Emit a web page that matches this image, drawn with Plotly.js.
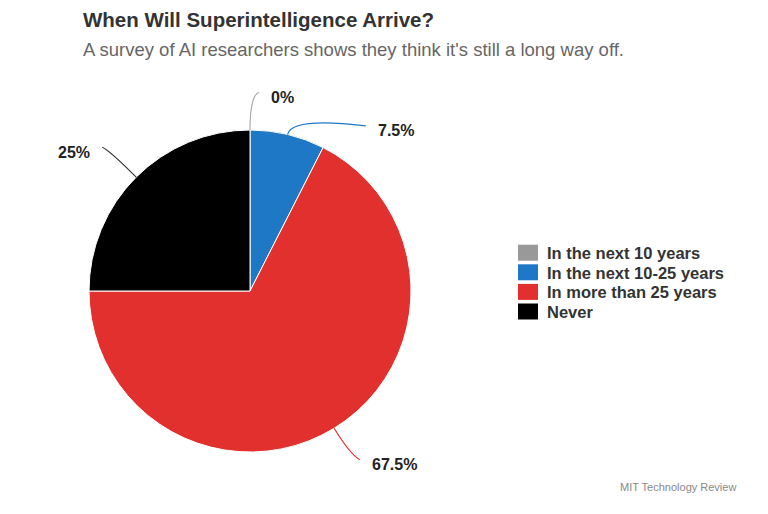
<!DOCTYPE html>
<html>
<head>
<meta charset="utf-8">
<script src="https://cdn.plot.ly/plotly-3.0.1.min.js"></script>
<style>html,body{margin:0;padding:0;background:#fff;}#chart{width:768px;height:514px;}</style>
</head>
<body>
<div id="chart"></div>
<script>
// ---- data ----
const categories = ["In the next 10 years", "In the next 10-25 years", "In more than 25 years", "Never"];
const shares = [0, 7.5, 67.5, 25];
const labelTexts = ["0%", "7.5%", "67.5%", "25%"];
const sliceColors = ["#999999", "#1f78c6", "#e2302f", "#000000"];

// ---- layout / style config (not data) ----
const W = 768, H = 514;
const cx = 250, cy = 291, R = 161;
// connector style per slice: [radial extension, horizontal run, vertical run]
const connectorStyle = [[34, 9, -4], [18, 74, 9], [30, 10, 6], [38, -7, -3]];
const legendBox = {x: 518, y: 244.7, w: 20, h: 16, pitch: 19.6, textGap: 7};

const px = x => x / W;
const py = y => 1 - y / H;
const FONT = "Liberation Sans, Arial, sans-serif";

const total = shares.reduce((a, b) => a + b, 0);
const shapes = [], annotations = [];
let cum = 0;
shares.forEach((v, i) => {
  const mid = (cum + v / 2) / total * 2 * Math.PI;
  cum += v;
  const sx = Math.sin(mid), sy = -Math.cos(mid);
  const [dr, hx, hy] = connectorStyle[i];
  const p0 = [cx + R * sx, cy + R * sy];
  const p1 = [cx + (R + dr) * sx, cy + (R + dr) * sy];
  const p2 = [p1[0] + hx, p1[1] + hy];
  shapes.push({
    type: "path", xref: "paper", yref: "paper",
    path: `M ${px(p0[0])},${py(p0[1])} Q ${px(p1[0])},${py(p1[1])} ${px(p2[0])},${py(p2[1])}`,
    line: {color: i === 3 ? "#333333" : (i === 0 ? "#aaaaaa" : sliceColors[i]), width: 1.2}
  });
  const right = hx >= 0;
  annotations.push({
    xref: "paper", yref: "paper",
    x: px(p2[0] + (right ? 10 : -10)), y: py(p2[1] + 5),
    xanchor: right ? "left" : "right", yanchor: "middle",
    text: labelTexts[i], showarrow: false,
    font: {family: FONT, size: 16, color: "#222", weight: "bold"}
  });
});

// custom legend built from categories / colours
categories.forEach((c, i) => {
  const top = legendBox.y + i * legendBox.pitch;
  shapes.push({
    type: "rect", xref: "paper", yref: "paper",
    x0: px(legendBox.x), x1: px(legendBox.x + legendBox.w),
    y0: py(top + legendBox.h), y1: py(top),
    fillcolor: sliceColors[i], line: {width: 0}
  });
  annotations.push({
    xref: "paper", yref: "paper",
    x: px(legendBox.x + legendBox.w + legendBox.textGap), y: py(top + legendBox.h / 2 + 0.5),
    xanchor: "left", yanchor: "middle", text: c, showarrow: false,
    font: {family: FONT, size: 16.5, color: "#333", weight: "bold"}
  });
});

annotations.push({
  xref: "paper", yref: "paper", x: px(81), y: py(19.5), xanchor: "left", yanchor: "middle",
  text: "<b>When Will Superintelligence Arrive?</b>", showarrow: false,
  font: {family: FONT, size: 20.5, color: "#333"}
});
annotations.push({
  xref: "paper", yref: "paper", x: px(81), y: py(49), xanchor: "left", yanchor: "middle",
  text: "A survey of AI researchers shows they think it's still a long way off.", showarrow: false,
  font: {family: FONT, size: 18.5, color: "#666"}
});
annotations.push({
  xref: "paper", yref: "paper", x: px(738), y: py(487), xanchor: "right", yanchor: "middle",
  text: "MIT Technology Review", showarrow: false,
  font: {family: FONT, size: 11, color: "#888"}
});

const trace = {
  type: "pie",
  labels: categories,
  values: shares,
  marker: {colors: sliceColors, line: {color: "#ffffff", width: 1}},
  sort: false,
  direction: "clockwise",
  rotation: 0,
  textinfo: "none",
  hoverinfo: "label+percent",
  domain: {x: [px(cx - R), px(cx + R)], y: [py(cy + R), py(cy - R)]}
};

const layout = {
  width: W, height: H,
  margin: {l: 0, r: 0, t: 0, b: 0},
  paper_bgcolor: "#ffffff",
  showlegend: false,
  shapes: shapes,
  annotations: annotations
};

Plotly.newPlot("chart", [trace], layout, {displayModeBar: false, staticPlot: true});
</script>
</body>
</html>
